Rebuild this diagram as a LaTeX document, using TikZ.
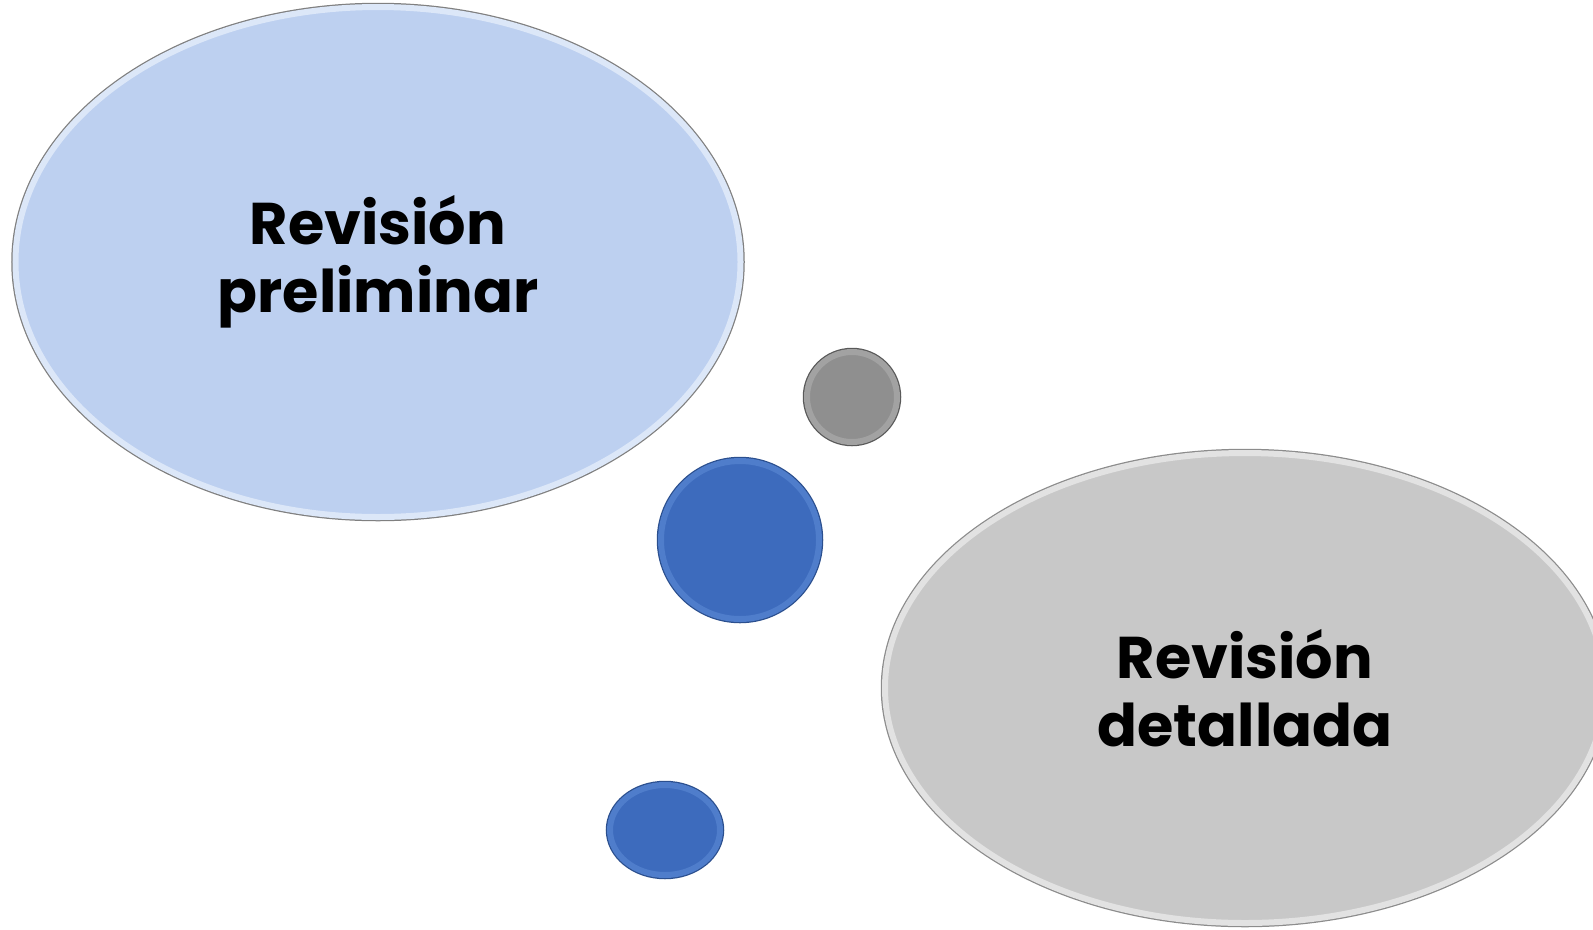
\documentclass[tikz,border=0pt]{standalone}
\usepackage{fontspec}
\setmainfont{Poppins}
\usetikzlibrary{shapes.geometric}
\definecolor{azulclaro}{HTML}{BDD0F0}
\definecolor{azulborde}{HTML}{DCE7F8}
\definecolor{azul}{HTML}{3D6BBD}
\definecolor{azulrim}{HTML}{4F7DCB}
\definecolor{azuloscuro}{HTML}{2B4F8E}
\definecolor{gris}{HTML}{C8C8C8}
\definecolor{grisborde}{HTML}{E2E2E2}
\definecolor{grisoscuro}{HTML}{8F8F8F}
\definecolor{grisrim}{HTML}{A2A2A2}
\tikzset{
	burbuja/.style n args={3}{ellipse, inner sep=0pt, fill=#1, draw=#2, line width=0.12cm,
		preaction={draw=#3, line width=0.17cm}},
	rotulo/.style={font=\bfseries\fontsize{33.5}{39}\selectfont, align=center, text=black}
}
\begin{document}
\begin{tikzpicture}
	\useasboundingbox (0,0) rectangle (31.86,-18.58);
	% 大椭圆
	\node [burbuja={azulclaro}{azulborde}{black!50}, minimum width=14.5cm, minimum height=10.2cm] (prelim) at (7.56,-5.24) {};
	\node [burbuja={gris}{grisborde}{black!45}, minimum width=14.4cm, minimum height=9.4cm] (detalle) at (24.9,-13.76) {};
	\node [rotulo] (tprelim) at (prelim.center) {Revisión\\preliminar};
	\node [rotulo] (tdetalle) at (detalle.center) {Revisión\\detallada};
	% 小圆
	\node [burbuja={grisoscuro}{grisrim}{black!65}, circle, minimum size=1.8cm] (c1) at (17.04,-7.94) {};
	\node [burbuja={azul}{azulrim}{azuloscuro}, circle, minimum size=3.16cm] (c2) at (14.8,-10.8) {};
	\node [burbuja={azul}{azulrim}{azuloscuro}, minimum width=2.2cm, minimum height=1.8cm] (c3) at (13.3,-16.6) {};
\end{tikzpicture}
\end{document}
